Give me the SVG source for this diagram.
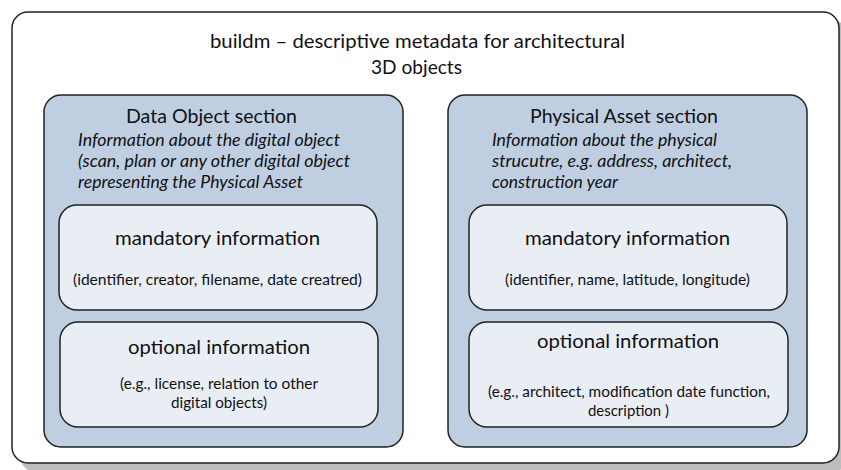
<svg xmlns="http://www.w3.org/2000/svg" width="841" height="470" viewBox="0 0 841 470">
<style>
.t{font-family:Lato,"Liberation Sans",sans-serif;fill:#111}
.h{font-size:20px}
.i{font-size:17px;font-style:italic}
.d{font-size:15px}
.sec{fill:#bfcfe1;stroke:#222;stroke-width:1.5}
.box{fill:#e9eef5;stroke:#222;stroke-width:1.5}
</style>
<rect x="20" y="20" width="828" height="452" rx="16" fill="#bdbdbd"/>
<g id="outer">
<rect x="12" y="12" width="827" height="451" rx="16" fill="#fff" stroke="#222" stroke-width="1.5"/>
<text class="t h" x="210" y="48" textLength="415" lengthAdjust="spacingAndGlyphs">buildm – descriptive metadata for architectural</text>
<text class="t h" x="371" y="74" textLength="91" lengthAdjust="spacingAndGlyphs">3D objects</text>
</g>
<g id="data-object-section">
<rect class="sec" x="44" y="95" width="359" height="352" rx="17"/>
<text class="t h" x="126" y="123" textLength="171" lengthAdjust="spacingAndGlyphs">Data Object section</text>
<text class="t i" x="78" y="146" textLength="262" lengthAdjust="spacingAndGlyphs">Information about the digital object</text>
<text class="t i" x="78" y="167" textLength="272" lengthAdjust="spacingAndGlyphs">(scan, plan or any other digital object</text>
<text class="t i" x="78" y="188" textLength="225" lengthAdjust="spacingAndGlyphs">representing the Physical Asset</text>
</g>
<g id="data-mandatory">
<rect class="box" x="59" y="205" width="318" height="105" rx="18"/>
<text class="t h" x="115" y="245" textLength="205" lengthAdjust="spacingAndGlyphs">mandatory information</text>
<text class="t d" x="73" y="285" textLength="289" lengthAdjust="spacingAndGlyphs">(identifier, creator, filename, date creatred)</text>
</g>
<g id="data-optional">
<rect class="box" x="60" y="322" width="318" height="105" rx="18"/>
<text class="t h" x="128" y="354" textLength="182" lengthAdjust="spacingAndGlyphs">optional information</text>
<text class="t d" x="120" y="389" textLength="198" lengthAdjust="spacingAndGlyphs">(e.g., license, relation to other</text>
<text class="t d" x="171" y="408" textLength="96" lengthAdjust="spacingAndGlyphs">digital objects)</text>
</g>
<g id="physical-asset-section">
<rect class="sec" x="448" y="95" width="359" height="352" rx="17"/>
<text class="t h" x="530" y="123" textLength="188" lengthAdjust="spacingAndGlyphs">Physical Asset section</text>
<text class="t i" x="492" y="146" textLength="225" lengthAdjust="spacingAndGlyphs">Information about the physical</text>
<text class="t i" x="492" y="167" textLength="240" lengthAdjust="spacingAndGlyphs">strucutre, e.g. address, architect,</text>
<text class="t i" x="492" y="188" textLength="126" lengthAdjust="spacingAndGlyphs">construction year</text>
</g>
<g id="physical-mandatory">
<rect class="box" x="469" y="205" width="318" height="105" rx="18"/>
<text class="t h" x="525" y="245" textLength="205" lengthAdjust="spacingAndGlyphs">mandatory information</text>
<text class="t d" x="505" y="285" textLength="245" lengthAdjust="spacingAndGlyphs">(identifier, name, latitude, longitude)</text>
</g>
<g id="physical-optional">
<rect class="box" x="469" y="322" width="319" height="105" rx="18"/>
<text class="t h" x="537" y="348" textLength="182" lengthAdjust="spacingAndGlyphs">optional information</text>
<text class="t d" x="488" y="397" textLength="282" lengthAdjust="spacingAndGlyphs">(e.g., architect, modification date function,</text>
<text class="t d" x="588" y="416" textLength="81" lengthAdjust="spacingAndGlyphs">description )</text>
</g>
<g id="connectors"/>
</svg>
